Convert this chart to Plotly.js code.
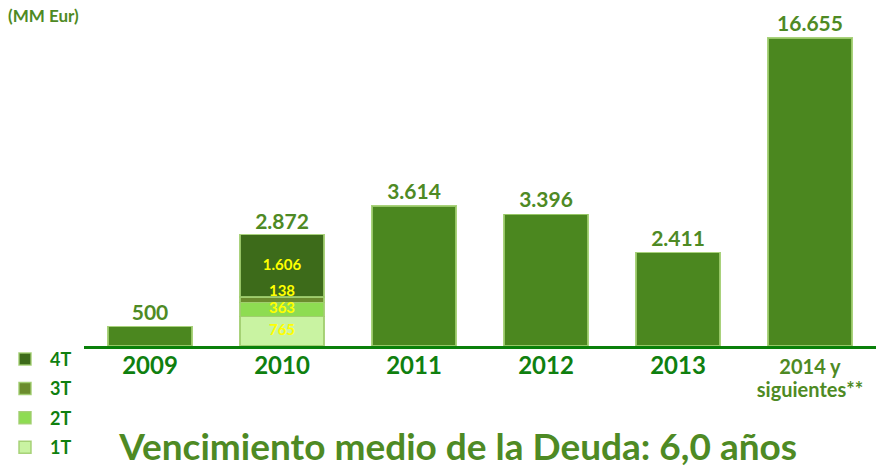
<!DOCTYPE html>
<html><head><meta charset="utf-8">
<script src="https://cdn.plot.ly/plotly-3.0.1.min.js"></script>
<style>html,body{margin:0;padding:0;background:#fff}#chart{width:876px;height:472px}</style>
</head><body><div id="chart"></div>
<script>
// ---- data ----
const categories = ['2009', '2010', '2011', '2012', '2013', '2014 y siguientes**'];
const tickLabels = [
  '<span style="font-size:24px">2009</span>',
  '<span style="font-size:24px">2010</span>',
  '<span style="font-size:24px">2011</span>',
  '<span style="font-size:24px">2012</span>',
  '<span style="font-size:24px">2013</span>',
  '<span style="font-size:20px;fill:#4e8a24">2014 y</span><br><span style="font-size:20px;fill:#4e8a24">siguientes**</span>'];
const annualValues = [500, null, 3614, 3396, 2411, null];
const quarterNames = ['1T', '2T', '3T', '4T'];
const quarterValues2010 = [765, 363, 138, 1606];
const laterValue = 16655;
const unitLabel = '(MM Eur)';
const chartTitle = 'Vencimiento medio de la Deuda: 6,0 años';

// ---- styles ----
const FONT = 'Lato, "Open Sans", sans-serif';
const mainGreen = '#4b871f';
const valueGreen = '#4e8a24';
const yearGreen = '#0f800f';
const quarterColors = ['#c9f3a2', '#8edc52', '#6b8c2d', '#3d6b1a'];
const quarterLabelPos = ['middle center', 'middle center', 'top center', 'middle center'];
const edge = {color: 'rgba(160,205,110,0.9)', width: 1.5};

const traces = [];
traces.push({
  type: 'bar', x: categories, y: annualValues, showlegend: false,
  marker: {color: mainGreen, line: edge},
  texttemplate: '%{y:,.0f}', textposition: 'outside', cliponaxis: false,
  textfont: {family: FONT, size: 21, color: valueGreen, weight: 'bold'},
  hoverinfo: 'x+y'
});
quarterNames.forEach((q, i) => {
  traces.push({
    type: 'bar', name: q, legendgroup: q, legendrank: quarterNames.length - i,
    x: [categories[1]], y: [quarterValues2010[i]],
    marker: {color: quarterColors[i], line: edge}
  });
});
// labels of the 2010 quarters, placed at each segment's midpoint on the value scale
const quarterMid = [];
let cum = 0;
quarterValues2010.forEach(v => { quarterMid.push(cum + v / 2); cum += v; });
traces.push({
  type: 'scatter', mode: 'text', showlegend: false,
  x: quarterValues2010.map(() => categories[1]), y: quarterMid,
  customdata: quarterValues2010,
  texttemplate: '%{customdata:,.0f}', textposition: quarterLabelPos, cliponaxis: false,
  textfont: {family: FONT, size: 15, color: '#ffff00', weight: 'bold'}
});
const total2010 = cum;
traces.push({
  type: 'scatter', mode: 'text', x: [categories[1]], y: [total2010], showlegend: false,
  texttemplate: '%{y:,.0f}', textposition: 'top center', cliponaxis: false,
  textfont: {family: FONT, size: 21, color: valueGreen, weight: 'bold'}
});
traces.push({
  type: 'bar', x: [categories[5]], y: [laterValue], yaxis: 'y2', showlegend: false,
  marker: {color: mainGreen, line: edge},
  texttemplate: '%{y:,.0f}', textposition: 'outside', cliponaxis: false,
  textfont: {family: FONT, size: 21, color: valueGreen, weight: 'bold'}
});

const layout = {
  width: 876, height: 472,
  margin: {l: 84, r: 0, t: 30, b: 126},
  paper_bgcolor: '#ffffff', plot_bgcolor: '#ffffff',
  separators: ',.',
  barmode: 'stack', bargap: 0.36,
  font: {family: FONT},
  xaxis: {
    type: 'category', categoryorder: 'array', categoryarray: categories,
    tickvals: categories, ticktext: tickLabels,
    showline: true, linecolor: '#0a800a', linewidth: 3, ticks: '', showgrid: false,
    ticklabelstandoff: 5,
    tickfont: {family: FONT, size: 17, color: yearGreen, weight: 'bold'},
    fixedrange: true
  },
  yaxis: {range: [0, 8150], visible: false, fixedrange: true},
  yaxis2: {range: [0, 17087], visible: false, overlaying: 'y', fixedrange: true},
  legend: {
    xref: 'container', yref: 'container',
    x: 0.0, xanchor: 'left', y: 0.278, yanchor: 'top',
    traceorder: 'grouped', tracegroupgap: 3, itemwidth: 40,
    font: {family: FONT, size: 18, color: yearGreen, weight: 'bold'},
    bgcolor: 'rgba(0,0,0,0)'
  },
  title: {
    text: chartTitle, xref: 'container', yref: 'container',
    x: 0.523, xanchor: 'center', y: 0.053, yanchor: 'middle',
    font: {family: FONT, size: 37, color: valueGreen, weight: 'bold'}
  },
  annotations: [{
    text: unitLabel, xref: 'paper', yref: 'paper', x: -0.098, xanchor: 'left',
    y: 1.047, yanchor: 'middle', showarrow: false,
    font: {family: FONT, size: 17, color: valueGreen, weight: 'bold'}
  }]
};

Plotly.newPlot('chart', traces, layout, {displayModeBar: false, staticPlot: true});
</script>
</body></html>
